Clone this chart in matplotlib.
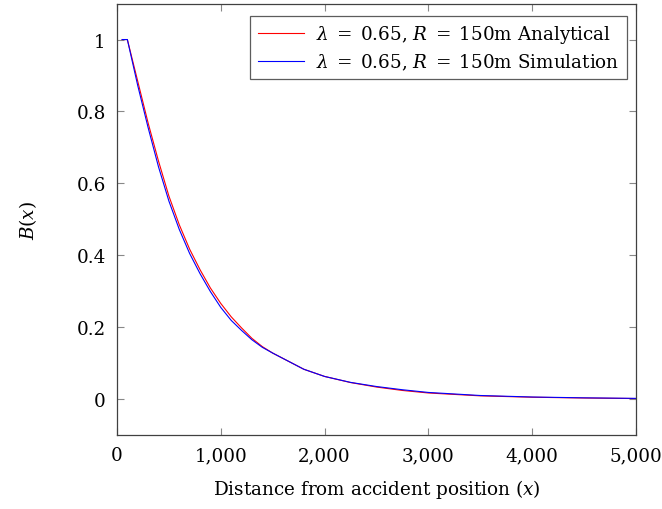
import matplotlib
matplotlib.use("Agg")
import matplotlib.pyplot as plt
from matplotlib.ticker import FuncFormatter

plt.rcParams["font.family"] = "DejaVu Serif"
plt.rcParams["mathtext.fontset"] = "dejavuserif"

# values
dist = [50, 100, 200, 300, 400, 500, 600, 700, 800, 900, 1000, 1100, 1200, 1300,
        1400, 1500, 1600, 1800, 2000, 2250, 2500, 2750, 3000, 3500, 4000, 4500, 5000]
b_analytical = [1, 1, 0.884, 0.768, 0.662, 0.565, 0.485, 0.417, 0.36, 0.309, 0.266,
                0.229, 0.198, 0.169, 0.146, 0.128, 0.113, 0.083, 0.063, 0.046, 0.0335,
                0.024, 0.017, 0.009, 0.0052, 0.003, 0.0015]
b_simulation = [1, 1, 0.872, 0.755, 0.646, 0.551, 0.472, 0.405, 0.349, 0.299, 0.255,
                0.219, 0.191, 0.165, 0.144, 0.128, 0.113, 0.083, 0.063, 0.0465, 0.035,
                0.026, 0.0185, 0.010, 0.0058, 0.0035, 0.002]
xticks = [0, 1000, 2000, 3000, 4000, 5000]
yticks = [0, 0.2, 0.4, 0.6, 0.8, 1]

fs = 13.2
fig = plt.figure(figsize=(6.62, 5.10), dpi=100)
ax = fig.add_axes([0.1767, 0.145, 0.784, 0.846])

ax.plot(dist, b_analytical, color="red", lw=0.8,
        label=r"$\lambda\;=\;0.65$, $R\;=\;150$m Analytical")
ax.plot(dist, b_simulation, color="blue", lw=0.8,
        label=r"$\lambda\;=\;0.65$, $R\;=\;150$m Simulation")

ax.set_xlim(0, 5000)
ax.set_ylim(-0.1, 1.1)
ax.set_xticks(xticks)
ax.set_yticks(yticks)
ax.xaxis.set_major_formatter(FuncFormatter(lambda v, p: f"{v:,.0f}"))
ax.yaxis.set_major_formatter(FuncFormatter(lambda v, p: f"{v:g}"))
ax.tick_params(direction="in", length=5, width=0.8, color="#888888",
               top=True, right=True, labelsize=fs, pad=8)
for s in ax.spines.values():
    s.set_color("#404040")
    s.set_linewidth(0.9)

ax.set_xlabel(r"Distance from accident position ($x$)", fontsize=fs, labelpad=9)
ax.set_ylabel(r"$B(x)$", fontsize=fs, labelpad=27)

leg = ax.legend(loc="upper right", fontsize=fs, frameon=True, fancybox=False,
                handlelength=2.5, handletextpad=0.7, borderpad=0.4,
                labelspacing=0.35, borderaxespad=0,
                bbox_to_anchor=(0.983, 0.971))
leg.get_frame().set_edgecolor("#333333")
leg.get_frame().set_linewidth(0.9)

plt.savefig("out.png", dpi=100)
